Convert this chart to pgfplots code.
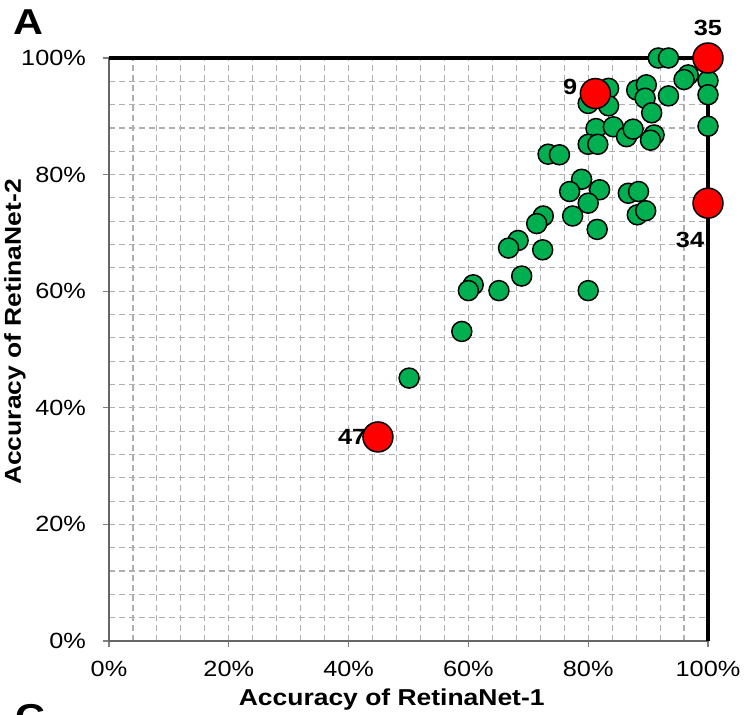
\documentclass[border=0pt]{standalone}
\usepackage{fontspec}
\setmainfont{Liberation Sans}[FakeStretch=1.15]
\usepackage{pgfplots}
\pgfplotsset{compat=1.18}
\definecolor{mygreen}{RGB}{0,176,80}
\definecolor{gridgray}{RGB}{175,175,175}
\begin{document}
\begin{tikzpicture}
\begin{axis}[
  scale only axis, width=299.5pt, height=291.5pt,
  xmin=0, xmax=100, ymin=0, ymax=100,
  clip=false,
  xtick={0,20,40,60,80,100}, ytick={0,20,40,60,80,100},
  xticklabels={0\%,20\%,40\%,60\%,80\%,100\%},
  yticklabels={0\%,20\%,40\%,60\%,80\%,100\%},
  minor tick num=4,
  grid=both,
  major grid style={gridgray, dash pattern=on 3pt off 2pt, line width=0.55pt},
  minor grid style={gridgray, dash pattern=on 3pt off 2pt, line width=0.55pt},
  tick align=outside, tick pos=left,
  major tick length=3pt, minor tick length=0pt,
  tick style={gray, line width=0.6pt},
  axis line style={draw=gray!80!black, line width=1.3pt},
  ticklabel style={font=\fontsize{11}{13}\selectfont},
  xticklabel style={yshift=-3.5pt},
  yticklabel style={xshift=-5pt},
  xlabel={Accuracy of RetinaNet-1},
  ylabel={Accuracy of RetinaNet-2},
  label style={font=\bfseries\fontsize{11.5}{13}\selectfont},
  xlabel style={at={(axis description cs:0.472,0)}, anchor=center, yshift=-29.5pt},
  ylabel style={at={(axis description cs:-0.157,0.53)}, anchor=center},
]
\addplot[black, line width=1.6pt, mark=none] coordinates {(0,100) (100,100) (100,0)};
\addplot[only marks, mark=*, mark size=5pt, mark options={fill=mygreen, draw=black, line width=0.75pt}] coordinates {
(91.7,100) (93.4,100) (96.7,97.1) (96,96.3) (100,96.1) (100,93.7) (100,88.3)
(83.4,94.8) (80,92.2) (83.4,91.8) (88.1,94.5) (89.7,95.4) (89.5,93.1) (90.6,90.6) (93.4,93.5)
(81.3,87.9) (84.2,88.2) (80,85.2) (81.6,85.2) (86.4,86.5) (87.5,87.8) (91,86.8) (90.4,85.9)
(73.3,83.5) (75.2,83.4) (78.9,79.2) (76.9,77.1) (81.9,77.4) (80,75.1) (77.4,72.9) (81.5,70.6)
(86.7,76.8) (88.4,77.1) (88.2,73.1) (89.6,73.8) (72.5,72.9) (71.4,71.6)
(68.3,68.7) (66.7,67.4) (72.4,67.1) (68.9,62.6) (60.8,61.1) (60,60.1) (65.1,60.1) (80,60.1)
(58.9,53.1) (50.1,45.1)
};
\addplot[only marks, mark=*, mark size=7.5pt, mark options={fill=red, draw=black, line width=0.75pt}] coordinates {
(100,100) (81.2,93.9) (100,75.1) (44.9,35.0)
};
\node[font=\bfseries\fontsize{11}{13}\selectfont] at (axis cs:100,105.1) {35};
\node[font=\bfseries\fontsize{11}{13}\selectfont] at (axis cs:77,95) {9};
\node[font=\bfseries\fontsize{11}{13}\selectfont] at (axis cs:97,68.8) {34};
\node[font=\bfseries\fontsize{11}{13}\selectfont] at (axis cs:40.6,35) {47};
\end{axis}
\pgfresetboundingbox
\path[use as bounding box] (-54.5pt,-36.5pt) rectangle (318.5pt,320.5pt);
\node[font=\bfseries\fontsize{18}{20}\selectfont] at (-40.5pt,309.5pt) {A};
\node[font=\bfseries\fontsize{18}{20}\selectfont] at (-39.5pt,-38pt) {C};
\end{tikzpicture}
\end{document}
